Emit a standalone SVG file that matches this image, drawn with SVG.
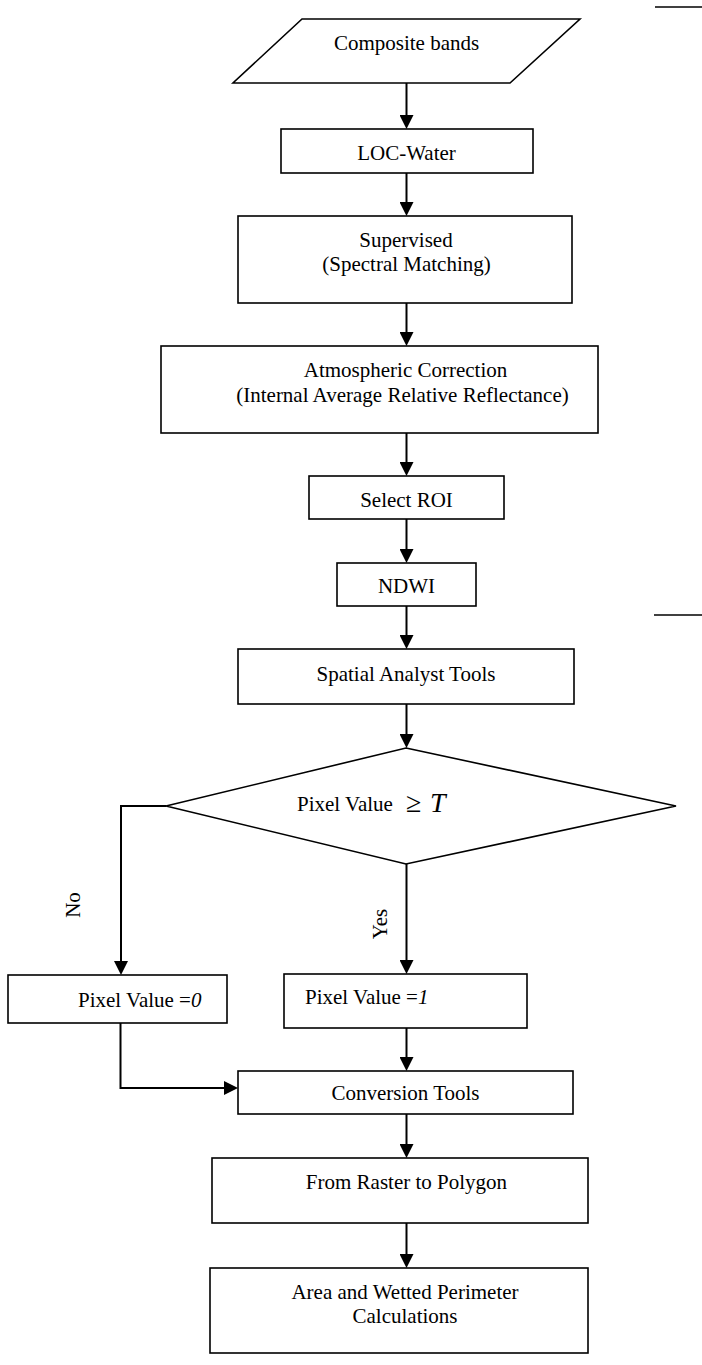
<svg xmlns="http://www.w3.org/2000/svg" width="702" height="1365" viewBox="0 0 702 1365">
<style>
.box{fill:#fff;stroke:#000;stroke-width:1.6}
.t{font-family:"Liberation Serif","Times New Roman",serif;font-size:21px;fill:#000}
.c{text-anchor:middle}
.conn{fill:none;stroke:#000;stroke-width:2}
</style>
<defs>
<marker id="ah" markerWidth="14" markerHeight="14" refX="10" refY="7" orient="auto" markerUnits="userSpaceOnUse">
<path d="M0,0 L14,7 L0,14 z" fill="#000"/>
</marker>
</defs>
<rect width="702" height="1365" fill="#fff"/>
<line x1="655" y1="7" x2="702" y2="7" stroke="#000" stroke-width="1.5"/>
<line x1="654" y1="615" x2="702" y2="615" stroke="#000" stroke-width="1.5"/>

<g id="connectors">
<line class="conn" x1="406.5" y1="83" x2="406.5" y2="125" marker-end="url(#ah)"/>
<line class="conn" x1="406.5" y1="173" x2="406.5" y2="212" marker-end="url(#ah)"/>
<line class="conn" x1="406.5" y1="303" x2="406.5" y2="342" marker-end="url(#ah)"/>
<line class="conn" x1="406.5" y1="433" x2="406.5" y2="472" marker-end="url(#ah)"/>
<line class="conn" x1="406.5" y1="519" x2="406.5" y2="559" marker-end="url(#ah)"/>
<line class="conn" x1="406.5" y1="606" x2="406.5" y2="645" marker-end="url(#ah)"/>
<line class="conn" x1="406.5" y1="704" x2="406.5" y2="744" marker-end="url(#ah)"/>
<polyline class="conn" points="166,806 121,806 121,971" marker-end="url(#ah)"/>
<line class="conn" x1="406.5" y1="864" x2="406.5" y2="970" marker-end="url(#ah)"/>
<polyline class="conn" points="120.5,1023 120.5,1088 234,1088" marker-end="url(#ah)"/>
<line class="conn" x1="406.5" y1="1028" x2="406.5" y2="1067" marker-end="url(#ah)"/>
<line class="conn" x1="406.5" y1="1114" x2="406.5" y2="1154" marker-end="url(#ah)"/>
<line class="conn" x1="406.5" y1="1223" x2="406.5" y2="1264" marker-end="url(#ah)"/>
</g>

<g id="composite">
<polygon class="box" points="302,19 580,19 510,83 233,83"/>
<text class="t c" x="406.5" y="50">Composite bands</text>
</g>
<g id="loc">
<rect class="box" x="281" y="129" width="252" height="44"/>
<text class="t c" x="406.5" y="159.5">LOC-Water</text>
</g>
<g id="supervised">
<rect class="box" x="238" y="216" width="334" height="87"/>
<text class="t c" x="406" y="246.5">Supervised</text>
<text class="t c" x="406.5" y="270.5">(Spectral Matching)</text>
</g>
<g id="atmospheric">
<rect class="box" x="161" y="346" width="437" height="87"/>
<text class="t c" x="405.5" y="376.5">Atmospheric Correction</text>
<text class="t c" x="402.5" y="401.5">(Internal Average Relative Reflectance)</text>
</g>
<g id="roi">
<rect class="box" x="309" y="476" width="195" height="43"/>
<text class="t c" x="406.5" y="507">Select ROI</text>
</g>
<g id="ndwi">
<rect class="box" x="337" y="563" width="139" height="43"/>
<text class="t c" x="406.5" y="593">NDWI</text>
</g>
<g id="spatial">
<rect class="box" x="238" y="649" width="336" height="55"/>
<text class="t c" x="406" y="681">Spatial Analyst Tools</text>
</g>
<g id="decision">
<polygon class="box" points="406,748 676,806 406,864 166,806"/>
<text class="t" x="297" y="811">Pixel Value</text>
<text x="406" y="812" style="font-family:'Liberation Serif',serif;font-size:28px">≥</text>
<text x="430" y="812" style="font-family:'Liberation Serif',serif;font-size:28px;font-style:italic">T</text>
</g>
<g id="no-label">
<text class="t c" transform="translate(79.5,905) rotate(-90)">No</text>
</g>
<g id="yes-label">
<text class="t c" transform="translate(386.5,924) rotate(-90)">Yes</text>
</g>
<g id="pv0">
<rect class="box" x="8" y="975" width="219" height="48"/>
<text class="t" x="78" y="1006.5">Pixel Value =<tspan font-style="italic">0</tspan></text>
</g>
<g id="pv1">
<rect class="box" x="284" y="974" width="243" height="54"/>
<text class="t" x="305" y="1004">Pixel Value =<tspan font-style="italic">1</tspan></text>
</g>
<g id="conversion">
<rect class="box" x="238" y="1071" width="335" height="43"/>
<text class="t c" x="405.5" y="1100">Conversion Tools</text>
</g>
<g id="raster">
<rect class="box" x="212" y="1158" width="376" height="65"/>
<text class="t c" x="406.5" y="1189">From Raster to Polygon</text>
</g>
<g id="area">
<rect class="box" x="210" y="1268" width="378" height="85"/>
<text class="t c" x="405" y="1299">Area and Wetted Perimeter</text>
<text class="t c" x="405" y="1323">Calculations</text>
</g>
</svg>
